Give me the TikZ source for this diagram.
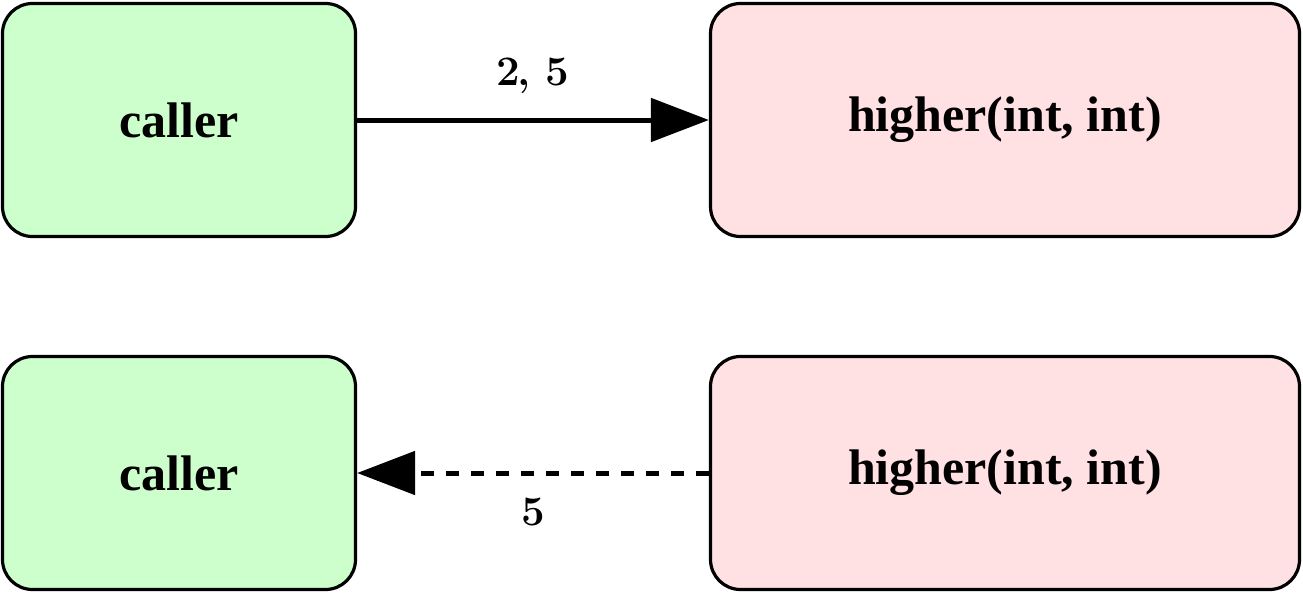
\documentclass[tikz,border=0pt]{standalone}
\usepackage{fontspec}
\usetikzlibrary{arrows.meta}
\newfontfamily\boxfont{Liberation Serif}
\definecolor{callerfill}{HTML}{CCFFCC}
\definecolor{calleefill}{HTML}{FFE0E3}
\begin{document}
\begin{tikzpicture}[x=1pt,y=-1pt,
  block/.style={draw=black, line width=3.2pt, rounded corners=30pt,
    minimum height=233pt, inner sep=0pt,
    font=\boxfont\bfseries\fontsize{50}{60}\selectfont},
  callerbox/.style={block, fill=callerfill, minimum width=353pt},
  calleebox/.style={block, fill=calleefill, minimum width=589pt},
  flow/.style={line width=5pt, -{Triangle[length=58pt,width=43pt]}},
  lbl/.style={font=\bfseries\fontsize{42}{50}\selectfont, inner sep=0pt}]
  \useasboundingbox (0,0) rectangle (1303,594);

  % call: caller passes the arguments
  \node[callerbox] (c1) at (179,120) {caller};
  \node[calleebox] (h1) at (1005,120) {higher(int, int)};
  \draw[flow] (c1.east) -- node[lbl, above=24pt] {2\kern-3pt, 5} (h1.west);

  % return: higher hands back the result
  \node[callerbox] (c2) at (179,473) {caller};
  \node[calleebox] (h2) at (1005,473) {higher(int, int)};
  \draw[flow, dash pattern=on 13pt off 12pt] (h2.west) -- node[lbl, below=22pt] {5} (c2.east);
\end{tikzpicture}
\end{document}
